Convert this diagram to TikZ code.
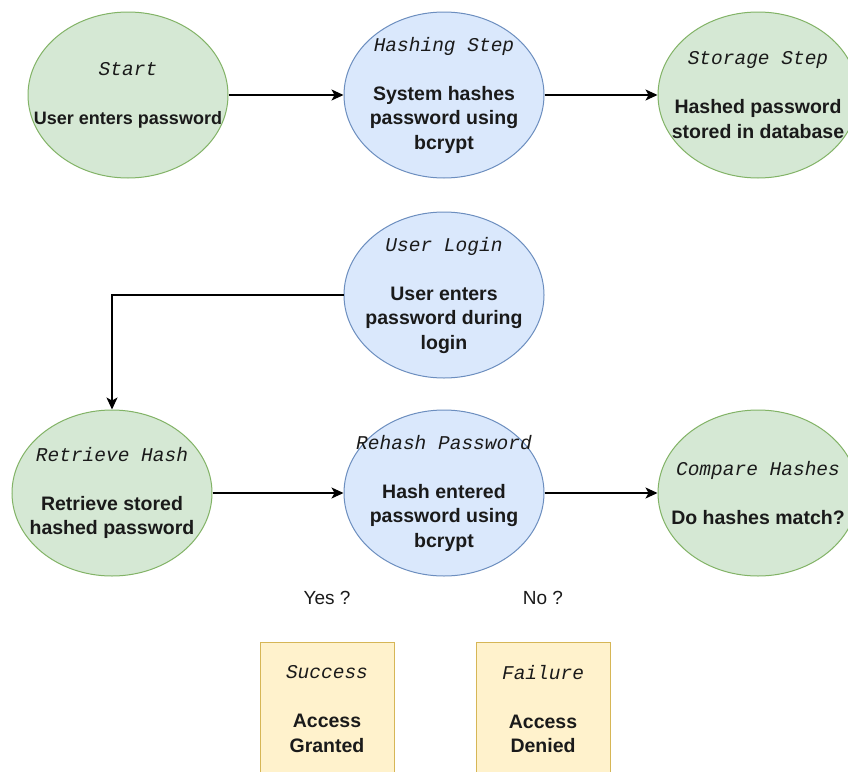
\documentclass[tikz,border=0pt]{standalone}
\usepackage{fontspec}
\setmainfont{Liberation Sans}
\newfontfamily\ttlfamily{Liberation Mono}
\usetikzlibrary{shapes.geometric,arrows.meta,backgrounds}

\definecolor{greenfill}{HTML}{D5E8D4}
\definecolor{greenline}{HTML}{82B366}
\definecolor{bluefill}{HTML}{DAE8FC}
\definecolor{blueline}{HTML}{6C8EBF}
\definecolor{yellowfill}{HTML}{FFF2CC}
\definecolor{yellowline}{HTML}{D6B656}
\definecolor{inkcol}{HTML}{1A1A1A}

\newcommand\ttl[1]{{\ttlfamily\itshape\mdseries #1}}

\tikzset{
  stage/.style={ellipse, minimum width=200pt, minimum height=166pt, inner sep=0pt,
    line width=1pt},
  greenstage/.style={stage, draw=greenline, fill=greenfill},
  bluestage/.style={stage, draw=blueline, fill=bluefill},
  caption/.style={inner sep=0pt, align=center, text=inkcol,
    font=\bfseries\fontsize{19.5}{24.5}\selectfont},
  outcome/.style={rectangle, draw=yellowline, fill=yellowfill, line width=1pt,
    minimum width=134pt, minimum height=134pt, inner sep=0pt},
  answer/.style={font=\fontsize{19}{23}\selectfont, text=inkcol},
  flow/.style={line width=1.3pt, draw=black},
  flowarrow/.style={flow, -{Stealth[length=12pt,width=11pt,inset=3pt]}}
}

\begin{document}
\begin{tikzpicture}[x=1pt,y=-1pt]
  \useasboundingbox (0,0) rectangle (848,771);
  \clip (0,0) rectangle (848,771);
  \fill[white] (0,0) rectangle (848,771);

  % first row: registration
  \node[greenstage] (start) at (128,95) {};
  \node[caption] (start-txt) at (start)
    {\ttl{Start}\\[24.5pt]{\fontsize{18}{24.5}\selectfont User enters password}};
  \node[bluestage] (hash) at (444,95) {};
  \node[caption] (hash-txt) at (hash)
    {\ttl{Hashing Step}\\[24.5pt]System hashes\\password using\\bcrypt};
  \node[greenstage] (store) at (758,95) {};
  \node[caption] (store-txt) at (store)
    {\ttl{Storage Step}\\[24.5pt]Hashed password\\stored in database};

  % second row: login
  \node[bluestage] (login) at (444,295) {};
  \node[caption] (login-txt) at (login)
    {\ttl{User Login}\\[24.5pt]User enters\\password during\\login};

  % third row: verification
  \node[greenstage] (retrieve) at (112,493) {};
  \node[caption] (retrieve-txt) at (retrieve)
    {\ttl{Retrieve Hash}\\[24.5pt]Retrieve stored\\hashed password};
  \node[bluestage] (rehash) at (444,493) {};
  \node[caption] (rehash-txt) at (rehash)
    {\ttl{Rehash Password}\\[24.5pt]Hash entered\\password using\\bcrypt};
  \node[greenstage] (compare) at (758,493) {};
  \node[caption] (compare-txt) at (compare)
    {\ttl{Compare Hashes}\\[24.5pt]Do hashes match?};

  % outcomes
  \node[answer] (yes) at (327,598) {Yes ?};
  \node[answer] (no) at (543,598) {No ?};
  \node[outcome] (success) at (327,709) {};
  \node[caption] (success-txt) at (success) {\ttl{Success}\\[24.5pt]Access\\Granted};
  \node[outcome] (failure) at (543,709) {};
  \node[caption] (failure-txt) at (failure) {\ttl{Failure}\\[24.5pt]Access\\Denied};

  % connectors
  \coordinate (bend) at (758,278);
  \draw[flowarrow] (start) -- (hash);
  \draw[flowarrow] (hash) -- (store);
  \begin{scope}[on background layer]
    \draw[flow] (store.south) -- (bend) -- (bend -| login.center);
  \end{scope}
  \draw[flowarrow] (login.west) -| (retrieve.north);
  \draw[flowarrow] (retrieve) -- (rehash);
  \draw[flowarrow] (rehash) -- (compare);
\end{tikzpicture}
\end{document}
